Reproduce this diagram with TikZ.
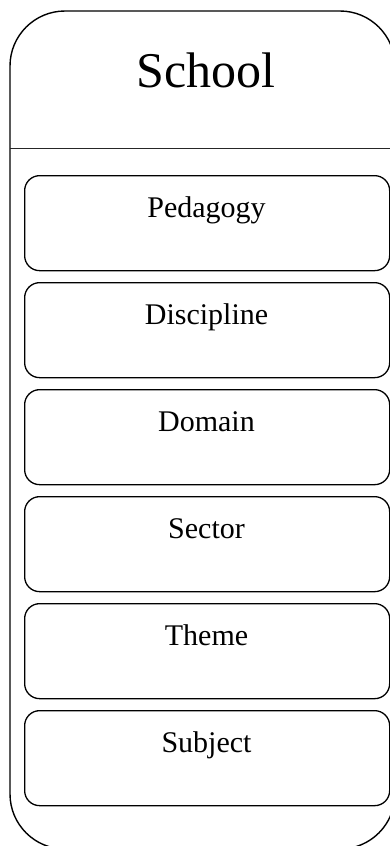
\documentclass[tikz,border=0pt]{standalone}
\usepackage{fontspec}
\setmainfont{Liberation Serif}
\begin{document}
\begin{tikzpicture}[x=1pt,y=-1pt,
  outerbox/.style={draw=black, line width=1.4pt, rounded corners=55pt},
  itembox/.style={draw=black, line width=1.3pt, rounded corners=15pt, minimum width=365pt, minimum height=95pt, inner sep=0pt, anchor=north west},
  itemtext/.style={anchor=base, inner sep=0pt, font=\fontsize{30}{36}\selectfont},
  titletext/.style={anchor=base, inner sep=0pt, font=\fontsize{50}{60}\selectfont}]
\useasboundingbox (0,0) rectangle (390,846);
\clip (0,0) rectangle (390,846);
\draw[outerbox] (10,11) rectangle (395,849);
\coordinate (hl) at (10,148);
\coordinate (hr) at (395,148);
\draw[line width=1pt, black!85] (hl) -- (hr);
\node[titletext] (title) at (206,87) {School};
\foreach \i/\name/\txt in {0/ped/Pedagogy,1/dis/Discipline,2/dom/Domain,3/sec/Sector,4/the/Theme,5/sub/Subject}{
  \node[itembox] (\name) at (24,175+107*\i) {};
  \node[itemtext] (\name t) at (206.5,217+107*\i) {\txt};
}
\end{tikzpicture}
\end{document}
